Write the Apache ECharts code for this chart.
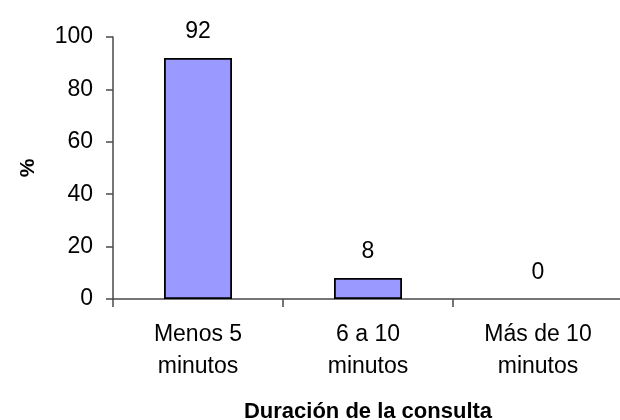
<!DOCTYPE html>
<html>
<head>
<meta charset="utf-8">
<script src="https://cdn.jsdelivr.net/npm/echarts@6/dist/echarts.min.js"></script>
<style>
  html, body { margin: 0; padding: 0; background: #ffffff; }
  #chart { width: 620px; height: 420px; }
</style>
</head>
<body>
<div id="chart"></div>
<script>
// Duración de la consulta (% de pacientes)
const categories = ['Menos 5\nminutos', '6 a 10\nminutos', 'Más de 10\nminutos'];
const percentages = [92, 8, 0];
const yTicks = [0, 20, 40, 60, 80, 100];

const FONT = '"Liberation Sans", Arial, sans-serif';

const chart = echarts.init(document.getElementById('chart'), null, { renderer: 'canvas' });

// an empty bar gets no outline, so only the axis shows under its label
const barData = percentages.map(function (v) {
  return v === 0 ? { value: v, itemStyle: { borderWidth: 0 } } : v;
});

chart.setOption({
  animation: false,
  backgroundColor: '#ffffff',
  grid: {
    left: 113,
    top: 37,
    width: 510,
    height: 262,
    containLabel: false,
    outerBoundsMode: 'none'
  },
  xAxis: {
    type: 'category',
    data: categories,
    boundaryGap: true,
    name: 'Duración de la consulta',
    nameLocation: 'middle',
    nameGap: 102,
    nameTextStyle: {
      fontFamily: FONT,
      fontSize: 22,
      fontWeight: 'bold',
      color: '#000'
    },
    axisLine: { show: true, lineStyle: { color: '#4a4a4a', width: 1.5 } },
    axisTick: { show: true, length: 8, lineStyle: { color: '#4a4a4a', width: 1.5 } },
    axisLabel: {
      fontFamily: FONT,
      fontSize: 23,
      color: '#000',
      lineHeight: 32,
      margin: 20,
      interval: 0
    },
    splitLine: { show: false }
  },
  yAxis: {
    type: 'value',
    min: 0,
    max: 100,
    interval: 20,
    name: '%',
    nameLocation: 'middle',
    nameGap: 74,
    nameRotate: 90,
    nameTextStyle: {
      fontFamily: FONT,
      fontSize: 21,
      fontWeight: 'bold',
      color: '#000'
    },
    axisLine: { show: true, lineStyle: { color: '#4a4a4a', width: 1.5 } },
    axisTick: { show: true, inside: false, length: 7, lineStyle: { color: '#4a4a4a', width: 1.5 } },
    axisLabel: {
      fontFamily: FONT,
      fontSize: 23,
      color: '#000',
      margin: 20,
      formatter: function (v) { return yTicks.indexOf(v) >= 0 ? String(v) : ''; }
    },
    splitLine: { show: false }
  },
  series: [{
    type: 'bar',
    data: barData,
    barWidth: 68,
    itemStyle: {
      color: '#9999ff',
      borderColor: '#000000',
      borderWidth: 1.8
    },
    label: {
      show: true,
      position: 'top',
      distance: 15,
      fontFamily: FONT,
      fontSize: 23,
      color: '#000'
    }
  }]
});
</script>
</body>
</html>
